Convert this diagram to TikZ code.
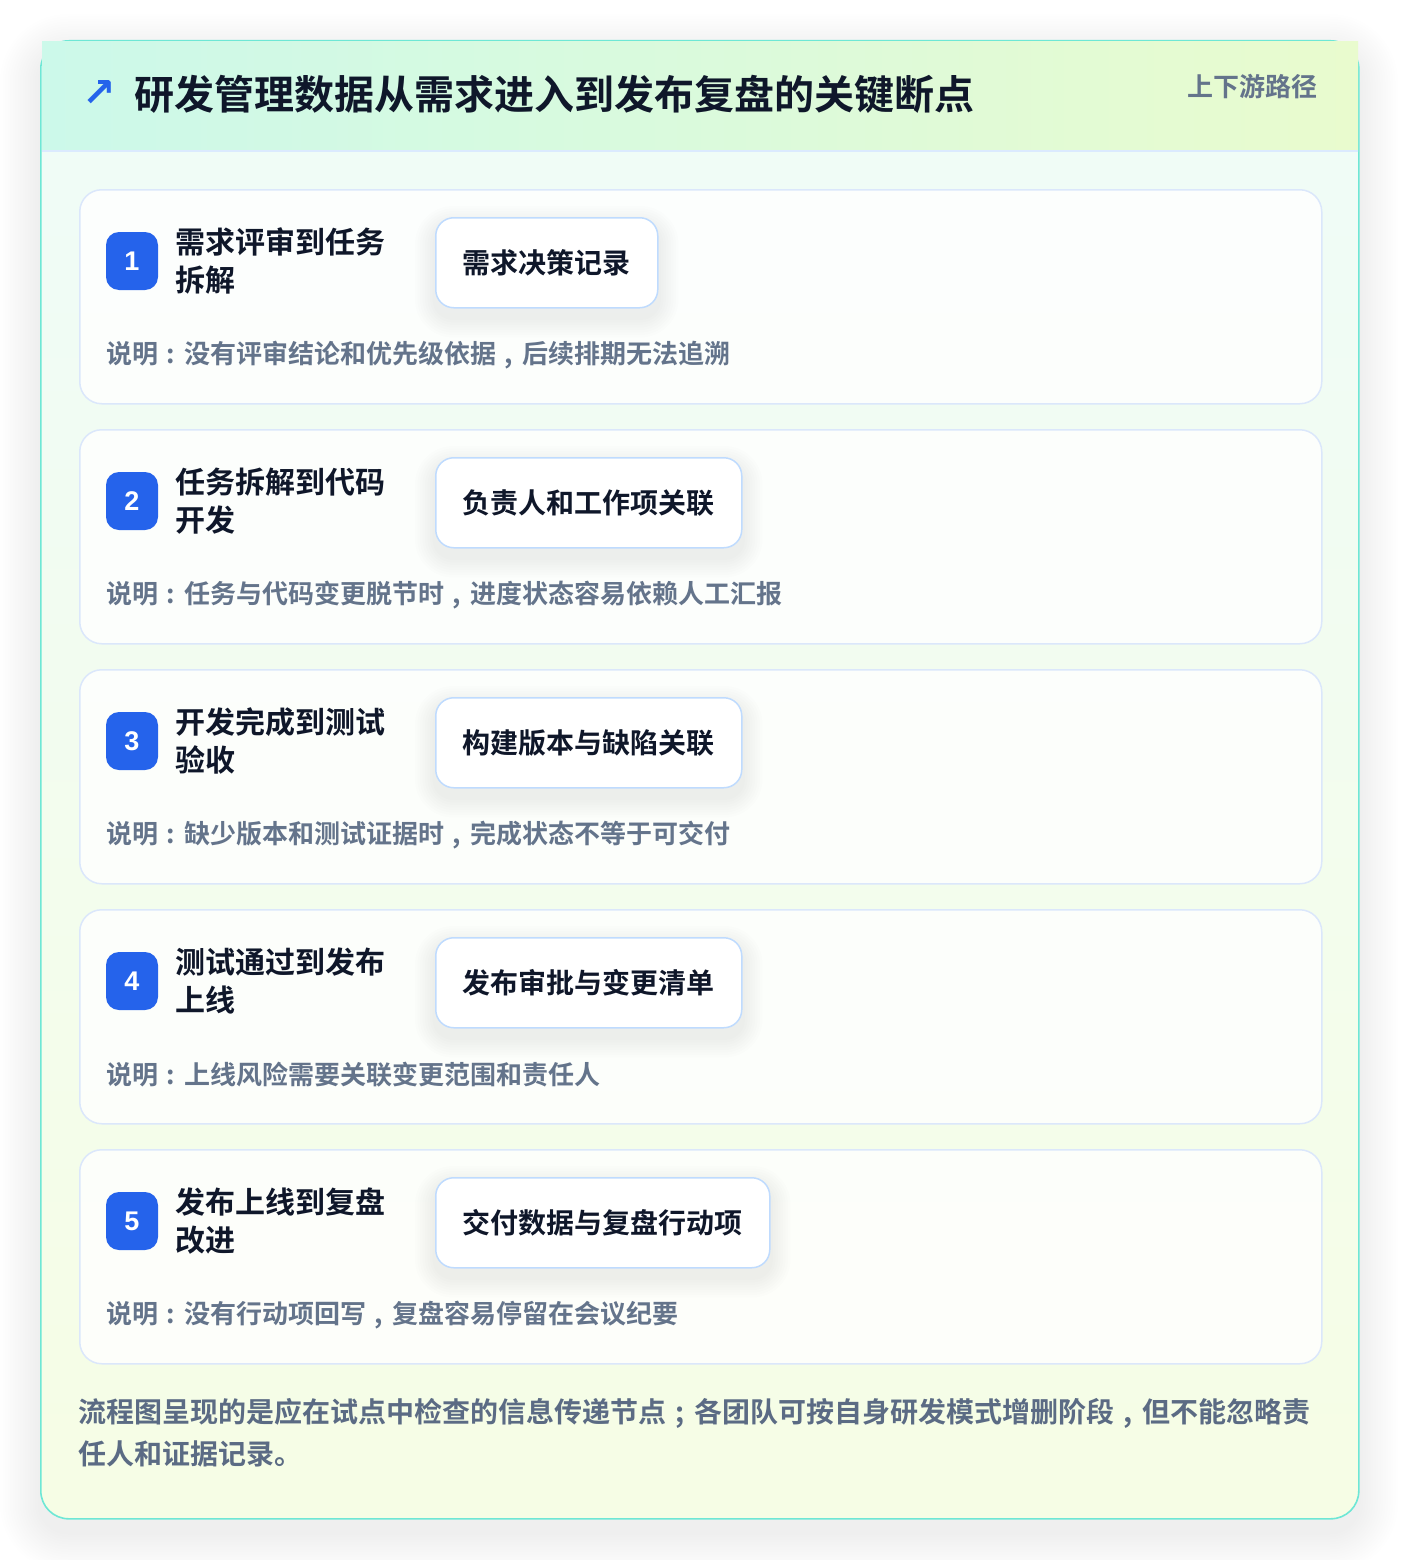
\documentclass[tikz,border=0pt]{standalone}
\usepackage{fontspec}
\setmainfont{Noto Sans CJK SC}
\newfontfamily\cjkb{Noto Sans CJK SC Bold}
\newfontfamily\dejavu{DejaVu Sans}
\newfontfamily\digitfont{Liberation Sans}
\definecolor{frameTeal}{HTML}{6EE7D5}
\definecolor{hdrLeft}{HTML}{CCF9EA}
\definecolor{hdrRight}{HTML}{E9FBCE}
\definecolor{bodyTop}{HTML}{EFFCF8}
\definecolor{bodyBot}{HTML}{F6FDE5}
\definecolor{sepBlue}{HTML}{DBEAFE}
\definecolor{cardLine}{HTML}{DBE7FB}
\definecolor{pillLine}{HTML}{BFDBFE}
\definecolor{badgeBlue}{HTML}{2563EB}
\definecolor{inkDark}{HTML}{0F172A}
\definecolor{inkGrey}{HTML}{64748B}
\definecolor{footGrey}{HTML}{5B6B84}
\pgfdeclarelayer{back}
\pgfdeclarelayer{mid}
\pgfsetlayers{back,mid,main}
\newcommand{\pc}[1]{\makebox[1em]{#1}}
\tikzset{
  frame/.style={draw=frameTeal, line width=1.6pt, rounded corners=28pt,
    top color=bodyTop, bottom color=bodyBot, minimum width=1318pt, minimum height=1478pt,
    inner sep=0pt, anchor=north west},
  card/.style={draw=cardLine, line width=1.5pt, rounded corners=22pt, fill=white, fill opacity=0.8,
    draw opacity=1, minimum width=1242pt, minimum height=214pt, inner sep=0pt, anchor=north west},
  badge/.style={fill=badgeBlue, rounded corners=13pt, minimum width=52pt, minimum height=58pt,
    inner sep=0pt, text=white, font=\digitfont\bfseries\fontsize{27pt}{27pt}\selectfont},
  steptitle/.style={anchor=west, align=left, inner sep=0pt, text=inkDark,
    font=\cjkb\fontsize{30pt}{38pt}\selectfont},
  pill/.style={draw=pillLine, line width=1.5pt, rounded corners=18pt, fill=white,
    minimum height=90pt, inner xsep=27pt, inner ysep=0pt, anchor=north west, text=inkDark,
    font=\cjkb\fontsize{28pt}{28pt}\selectfont},
  desc/.style={anchor=west, inner sep=0pt, text=inkGrey, font=\cjkb\fontsize{26pt}{26pt}\selectfont},
  shadowlayer/.style={fill=black, draw=none},
}
\begin{document}
\begin{tikzpicture}[x=1pt, y=-1pt]
\useasboundingbox (0,0) rectangle (1400,1560);
\begin{pgfonlayer}{back}
\fill[white] (0,0) rectangle (1400,1560);
\foreach \k in {1,...,16}{
  \pgfmathsetmacro\s{\k*2.5}
  \pgfmathsetmacro\r{28+\s}
  \fill[shadowlayer, opacity=0.0058, rounded corners=\r pt] (40-\s,54-\s) rectangle (1358+\s,1532+\s);
}
\node[frame] (frame) at (40,40) {};
\fill[left color=hdrLeft, right color=hdrRight] (42,42) rectangle (1358,151);
\draw[sepBlue, line width=1.5pt] (42,151) -- (1358,151);
\end{pgfonlayer}
\node[inner sep=0pt, text=badgeBlue, font=\dejavu\bfseries\fontsize{40pt}{40pt}\selectfont] (harrow) at (99,94) {↗};
\node[anchor=west, inner sep=0pt, text=inkDark, font=\cjkb\fontsize{40pt}{40pt}\selectfont] (htitle) at (134,94) {研发管理数据从需求进入到发布复盘的关键断点};
\node[anchor=east, inner sep=0pt, text=inkGrey, font=\cjkb\fontsize{26pt}{26pt}\selectfont] (hsub) at (1318,87) {上下游路径};
\foreach \i/\ta/\tb/\p/\d/\e in {
  1/需求评审到任务/拆解/需求决策记录/没有评审结论和优先级依据/后续排期无法追溯,
  2/任务拆解到代码/开发/负责人和工作项关联/任务与代码变更脱节时/进度状态容易依赖人工汇报,
  3/开发完成到测试/验收/构建版本与缺陷关联/缺少版本和测试证据时/完成状态不等于可交付,
  4/测试通过到发布/上线/发布审批与变更清单/上线风险需要关联变更范围和责任人/,
  5/发布上线到复盘/改进/交付数据与复盘行动项/没有行动项回写/复盘容易停留在会议纪要}{
  \pgfmathsetmacro\top{189+(\i-1)*240}
  \begin{pgfonlayer}{back}
    \node[card] (card\i) at (79,\top) {};
  \end{pgfonlayer}
  \node[badge] (badge\i) at (132,\top+72) {\i};
  \node[steptitle] (title\i) at (175,\top+72) {\ta\\\tb};
  \node[pill] (pill\i) at (435,\top+28) {\p};
  \begin{pgfonlayer}{mid}
    \foreach \k in {1,...,8}{
      \pgfmathsetmacro\s{\k*2.5}
      \pgfmathsetmacro\r{18+\s}
      \fill[shadowlayer, opacity=0.0065, rounded corners=\r pt]
        ([xshift=-\s pt, yshift=\s pt-9pt]pill\i.north west) rectangle ([xshift=\s pt, yshift=-\s pt-9pt]pill\i.south east);
    }
  \end{pgfonlayer}
  \node[desc] (desc\i) at (106,\top+166) {说明\pc{:}\d\if\relax\detokenize\expandafter{\e}\relax\else\pc{,}\e\fi};
}
\node[anchor=north west, align=left, inner sep=0pt, text=footGrey, font=\cjkb\fontsize{28pt}{42pt}\selectfont] (footer) at (78,1398) {流程图呈现的是应在试点中检查的信息传递节点\pc{;}各团队可按自身研发模式增删阶段\pc{,}但不能忽略责\\任人和证据记录。};
\end{tikzpicture}
\end{document}
